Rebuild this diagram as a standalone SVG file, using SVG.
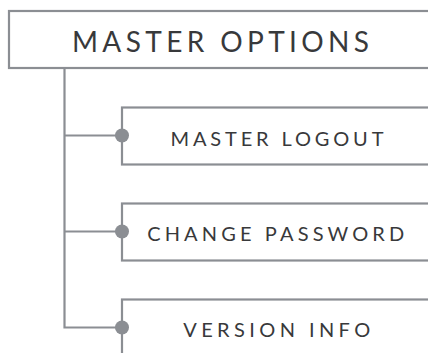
<svg xmlns="http://www.w3.org/2000/svg" width="428" height="353" viewBox="0 0 428 353">
  <style>
    .box { fill: #ffffff; stroke: #8b8e93; stroke-width: 2.2; }
    .conn { fill: none; stroke: #8b8e93; stroke-width: 2.2; }
    .dot { fill: #8b8e93; stroke: none; }
    .t { font-family: Lato, "Open Sans", "Liberation Sans", sans-serif; fill: #38393b; text-anchor: middle; }
    .t1 { font-size: 28px; }
    .t2 { font-size: 20px; }
  </style>
  <rect width="428" height="353" fill="#ffffff"/>
  <g id="connectors">
    <path class="conn" d="M64.5 68 V327.5 H122"/>
    <path class="conn" d="M64.5 135.5 H122"/>
    <path class="conn" d="M64.5 231.5 H122"/>
  </g>
  <g id="master-options">
    <rect class="box" x="9" y="11" width="430" height="57"/>
    <text class="t t1" x="220.5" y="52.3" textLength="297" lengthAdjust="spacing">MASTER OPTIONS</text>
  </g>
  <g id="master-logout">
    <rect class="box" x="122" y="107.5" width="320" height="57"/>
    <circle class="dot" cx="122" cy="135.5" r="7"/>
    <text class="t t2" x="277" y="146" textLength="213" lengthAdjust="spacing">MASTER LOGOUT</text>
  </g>
  <g id="change-password">
    <rect class="box" x="122" y="203.5" width="320" height="57"/>
    <circle class="dot" cx="122" cy="231.5" r="7"/>
    <text class="t t2" x="275.7" y="241" textLength="257" lengthAdjust="spacing">CHANGE PASSWORD</text>
  </g>
  <g id="version-info">
    <rect class="box" x="122" y="299.5" width="320" height="57"/>
    <circle class="dot" cx="122" cy="327.5" r="7"/>
    <text class="t t2" x="276.7" y="337" textLength="187" lengthAdjust="spacing">VERSION INFO</text>
  </g>
</svg>
